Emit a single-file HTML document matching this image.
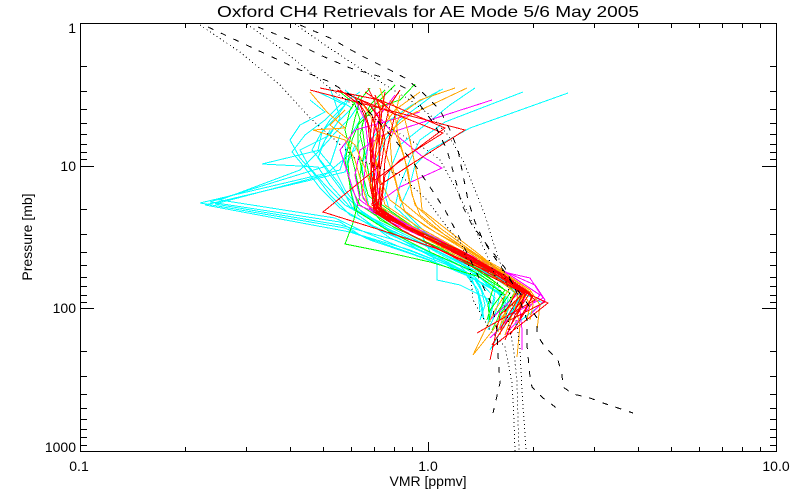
<!DOCTYPE html>
<html>
<head>
<meta charset="utf-8">
<style>
  html, body { margin: 0; padding: 0; background: #ffffff; }
  svg { display: block; }
  text { font-family: "Liberation Sans", "DejaVu Sans", sans-serif; fill: #000; }
</style>
</head>
<body>
<svg width="800" height="500" viewBox="0 0 800 500" xmlns="http://www.w3.org/2000/svg">
  <rect x="0" y="0" width="800" height="500" fill="#ffffff"/>

  <!-- Title -->
  <text x="428" y="17" font-size="16" text-anchor="middle" textLength="422" lengthAdjust="spacingAndGlyphs">Oxford CH4 Retrievals for AE Mode 5/6 May 2005</text>

  <!-- Colored data series -->
  <g fill="none" stroke-width="1" shape-rendering="crispEdges" stroke-linejoin="miter">
    <!-- cyan -->
    <g stroke="#00ffff">
      <polyline points="318,92 345,105 330,120 320,135 312,150 325,166 340,185 352,207 392,232 428,252 462,270 478,290 482,305 484,320"/>
      <polyline points="330,95 352,108 338,122 325,140 318,158 330,175 345,195 365,215 410,237 445,257 480,277 500,295 495,315 488,330"/>
      <polyline points="310,100 325,112 300,125 290,140 300,158 315,175 330,195 350,215 395,236 430,256 465,272 478,290 480,312"/>
      <polyline points="345,90 360,103 350,118 335,133 320,150 262,164 318,167 330,185 350,207 400,232 440,252 478,272 505,295 505,318 495,335"/>
      <polyline points="340,135 335,150 330,165 210,202 340,222 360,235 410,250 455,268 495,290 512,310 500,330"/>
      <polyline points="350,140 345,155 340,170 200,203 345,228 370,240 420,257 465,274 505,295 500,320"/>
      <polyline points="355,145 350,158 345,172 205,205 350,232 385,244 430,260 470,277 508,298 505,322"/>
      <polyline points="330,130 320,150 300,170 220,200 335,218 360,230 400,247 445,264 475,280 490,305"/>
      <polyline points="360,140 355,150 325,175 215,204 340,225 395,240 440,258 475,277 495,298 490,318"/>
      <polyline points="568,93 470,128 430,150 415,165 410,185 400,207 425,232 455,253 490,275 520,295 510,315"/>
      <polyline points="523,92 445,122 420,140 410,160 400,185 395,207 420,230 455,250 490,272 515,293 505,318"/>
      <polyline points="440,90 420,105 400,120 385,140 375,165 370,185 375,207 410,230 450,250 490,272 520,292 543,303 515,325"/>
      <polyline points="475,88 450,105 425,125 400,145 390,170 385,195 390,212 420,232 437,265 437,280 460,285 490,300 488,325"/>
      <polyline points="360,92 340,105 325,120 305,135 292,152 305,168 320,188 340,208 375,228 420,248 460,266 480,285 485,305 480,320"/>
      <polyline points="330,88 335,102 340,118 330,135 300,150 310,168 325,185 345,205 380,225 430,248 468,265 482,290 490,310"/>
      <polyline points="350,98 338,115 322,132 318,150 335,170 345,190 360,210 390,230 435,250 472,270 495,292 490,315"/>
      <polyline points="443,89 412,105 390,120 370,140 362,165 365,190 370,210 405,232 450,254 488,274 522,294 510,316 490,350"/>
      <polyline points="380,100 360,120 345,145 348,170 352,195 358,215 390,238 432,256 470,274 480,300 483,318"/>
    </g>
    <!-- green -->
    <g stroke="#00ff00">
      <polyline points="360,95 350,110 345,130 350,150 355,170 360,195 353,223 345,244 390,253 430,262 480,277 505,295 498,318 492,330"/>
      <polyline points="370,88 360,100 355,118 350,140 345,160 350,185 360,205 395,228 440,248 480,270 505,290 490,310 487,320"/>
      <polyline points="395,85 380,100 365,115 360,135 365,155 370,180 375,200 415,228 455,250 490,272 515,292 500,315"/>
      <polyline points="415,84 400,100 375,108 358,125 358,150 362,172 368,195 390,215 430,235 470,257 505,280 520,300 508,322"/>
      <polyline points="340,92 355,104 360,120 352,140 348,162 350,188 355,210 390,232 432,253 475,272 510,293 495,316"/>
      <polyline points="385,90 370,105 362,125 365,148 360,175 363,198 380,220 420,240 462,260 495,282 488,305 490,322"/>
    </g>
    <!-- magenta -->
    <g stroke="#ff00ff">
      <polyline points="492,100 383,135 360,150 355,175 360,200 390,222 440,245 490,265 535,285 545,300 530,315"/>
      <polyline points="420,112 355,130 340,150 350,180 358,205 420,230 470,255 510,275 540,295 520,318 505,335"/>
      <polyline points="370,105 390,130 423,157 442,168 400,187 375,205 410,228 460,250 500,270 527,290 522,305 490,338"/>
      <polyline points="355,100 365,120 368,145 365,170 362,195 372,212 415,232 455,250 495,270 530,278 543,298 520,310 522,330 522,350"/>
      <polyline points="395,95 380,115 372,140 375,165 378,190 382,210 420,232 462,252 500,272 520,292 490,320"/>
    </g>
    <!-- orange -->
    <g stroke="#ffa500">
      <polyline points="467,88 410,115 385,135 375,160 380,185 385,205 420,228 460,250 497,272 525,292 512,315 505,335"/>
      <polyline points="310,92 327,112 345,128 313,130 345,140 355,160 362,185 368,205 405,228 450,250 490,270 518,290 505,312 498,332"/>
      <polyline points="400,95 395,115 398,135 405,160 410,185 415,205 440,228 470,250 500,270 530,290 540,305 537,330"/>
      <polyline points="380,88 385,105 392,125 400,145 408,170 412,195 420,215 445,235 475,255 505,275 525,292 507,310 493,330 473,355"/>
      <polyline points="360,100 370,115 380,135 388,160 395,180 400,200 430,225 465,248 500,268 520,288 515,305 520,325 517,357"/>
      <polyline points="420,92 395,110 380,130 375,155 380,180 390,200 425,226 465,250 495,270 522,290 530,305 527,320"/>
      <polyline points="345,110 330,125 355,145 365,168 372,190 380,210 410,230 450,252 487,272 515,292 505,315 500,335"/>
      <polyline points="390,100 405,120 410,140 415,165 420,190 422,210 450,232 480,255 505,275 525,293 518,310"/>
      <polyline points="375,95 382,110 378,130 372,155 370,180 378,205 415,228 450,250 485,270 510,288 495,310 485,330 473,355"/>
      <polyline points="455,88 420,100 400,115 390,140 392,165 398,190 405,212 435,232 472,252 503,272 530,292 533,305 530,320"/>
    </g>
    <!-- red -->
    <g stroke="#ff0000">
      <polyline points="310,90 465,130 410,165 380,185 378,208 410,228 450,250 492,272 527,293 545,302 510,320"/>
      <polyline points="320,88 380,100 445,128 395,165 375,180 372,205 405,226 445,248 488,270 520,290 548,303 492,347"/>
      <polyline points="365,92 385,105 372,120 370,140 372,165 370,185 375,210 412,230 455,252 493,272 525,292 500,315 490,360"/>
      <polyline points="375,95 380,110 378,130 376,150 374,170 372,190 374,212 402,230 440,250 482,272 525,294 520,310 508,330"/>
      <polyline points="350,95 370,105 380,120 385,140 382,160 378,180 376,205 408,228 452,250 492,271 522,292 510,312 500,330"/>
      <polyline points="400,90 390,105 385,125 380,150 378,170 375,195 377,212 415,230 462,251 500,273 527,293 535,300 477,333"/>
      <polyline points="360,100 372,115 378,135 380,155 377,168 323,212 390,233 435,248 480,268 518,290 505,312"/>
      <polyline points="385,92 382,110 380,130 379,150 380,175 380,200 382,215 420,232 465,253 502,274 530,293 515,315 505,340"/>
      <polyline points="368,88 375,102 375,120 373,140 373,165 375,190 378,210 412,230 458,252 497,273 524,291 515,310 492,345"/>
      <polyline points="355,98 365,112 370,130 372,150 374,170 376,195 380,215 422,235 468,256 504,276 532,296 525,312 510,335"/>
      <polyline points="380,100 395,115 390,135 385,160 383,185 380,205 385,218 428,236 470,256 506,276 533,296 520,318"/>
      <polyline points="340,90 360,105 368,125 370,145 371,168 373,190 376,212 405,232 445,252 490,272 528,292 515,310 505,325"/>
      <polyline points="337,90 390,112 443,133 400,160 385,175 382,200 380,214 415,233 460,254 498,275 525,294 517,315"/>
    </g>
  </g>

  <!-- Black reference curves -->
  <g fill="none" stroke="#000" stroke-width="1" shape-rendering="crispEdges">
    <g stroke-dasharray="1,3">
      <polyline points="200,25 240,52 280,85 310,118 335,140 355,158 380,168 400,175 427,200 447,227 462,245 470,270 473,300 490,330 505,347 512,383 514,420 515,451"/>
      <polyline points="247,24 280,48 310,72 335,92 360,110 385,125 410,140 430,152 440,160 455,187 468,213 480,240 490,262 500,290 508,320 513,345 517,380 518,420 519,451"/>
      <polyline points="295,24 325,45 355,65 385,85 410,100 430,115 448,135 463,160 475,190 485,215 494,245 500,262 510,295 517,325 520,350 522,390 524,420 526,451"/>
    </g>
    <g stroke-dasharray="6,8">
      <polyline points="208,27 240,42 270,56 300,70 330,82 355,98 375,118 395,140 415,165 432,190 445,210 457,233 468,255 480,280 492,305 497,330 498,355 500,383 493,413"/>
      <polyline points="258,27 290,40 320,55 350,68 385,78 405,88 420,105 435,125 447,150 455,178 462,205 472,225 487,245 505,268 518,295 527,320 527,345 530,377 532,387 543,398 562,412"/>
      <polyline points="300,25 330,38 360,55 390,70 405,78 420,90 440,110 450,130 458,150 462,170 468,200 475,222 483,240 495,258 510,280 525,300 537,318 537,335 545,347 558,360 562,375 563,387 573,394 590,398 603,403 633,413"/>
    </g>
  </g>

  <!-- Axes box -->
  <g fill="none" stroke="#000" stroke-width="1" shape-rendering="crispEdges">
    <rect x="80.5" y="23.5" width="696" height="428"/>
    <path d="M80,66.5H87 M80,91.5H87 M80,109.5H87 M80,123.5H87 M80,134.5H87 M80,144.5H87 M80,152.5H87 M80,159.5H87
             M80,166.5H94
             M80,209.5H87 M80,234.5H87 M80,252.5H87 M80,265.5H87 M80,277.5H87 M80,286.5H87 M80,295.5H87 M80,302.5H87
             M80,308.5H94
             M80,351.5H87 M80,376.5H87 M80,394.5H87 M80,408.5H87 M80,419.5H87 M80,429.5H87 M80,437.5H87 M80,445.5H87"/>
    <path d="M777,66.5H770 M777,91.5H770 M777,109.5H770 M777,123.5H770 M777,134.5H770 M777,144.5H770 M777,152.5H770 M777,159.5H770
             M777,166.5H762
             M777,209.5H770 M777,234.5H770 M777,252.5H770 M777,265.5H770 M777,277.5H770 M777,286.5H770 M777,295.5H770 M777,302.5H770
             M777,308.5H762
             M777,351.5H770 M777,376.5H770 M777,394.5H770 M777,408.5H770 M777,419.5H770 M777,429.5H770 M777,437.5H770 M777,445.5H770"/>
    <path d="M185.5,452V447 M246.5,452V447 M290.5,452V447 M323.5,452V447 M351.5,452V447 M374.5,452V447 M394.5,452V447 M412.5,452V447
             M428.5,452V442
             M533.5,452V447 M594.5,452V447 M638.5,452V447 M671.5,452V447 M699.5,452V447 M722.5,452V447 M742.5,452V447 M760.5,452V447"/>
    <path d="M185.5,23V28 M246.5,23V28 M290.5,23V28 M323.5,23V28 M351.5,23V28 M374.5,23V28 M394.5,23V28 M412.5,23V28
             M428.5,23V33
             M533.5,23V28 M594.5,23V28 M638.5,23V28 M671.5,23V28 M699.5,23V28 M722.5,23V28 M742.5,23V28 M760.5,23V28"/>
  </g>

  <!-- Y tick labels -->
  <g font-size="14" text-anchor="end">
    <text x="76" y="33">1</text>
    <text x="76" y="171">10</text>
    <text x="76" y="313">100</text>
    <text x="76" y="452">1000</text>
  </g>
  <!-- X tick labels -->
  <g font-size="14" text-anchor="middle">
    <text x="79" y="471">0.1</text>
    <text x="428" y="471">1.0</text>
    <text x="776" y="471">10.0</text>
  </g>

  <!-- Axis titles -->
  <text x="428" y="486" font-size="14" text-anchor="middle">VMR [ppmv]</text>
  <text x="0" y="0" font-size="14" text-anchor="middle" transform="translate(32,237) rotate(-90)">Pressure [mb]</text>
</svg>
</body>
</html>
